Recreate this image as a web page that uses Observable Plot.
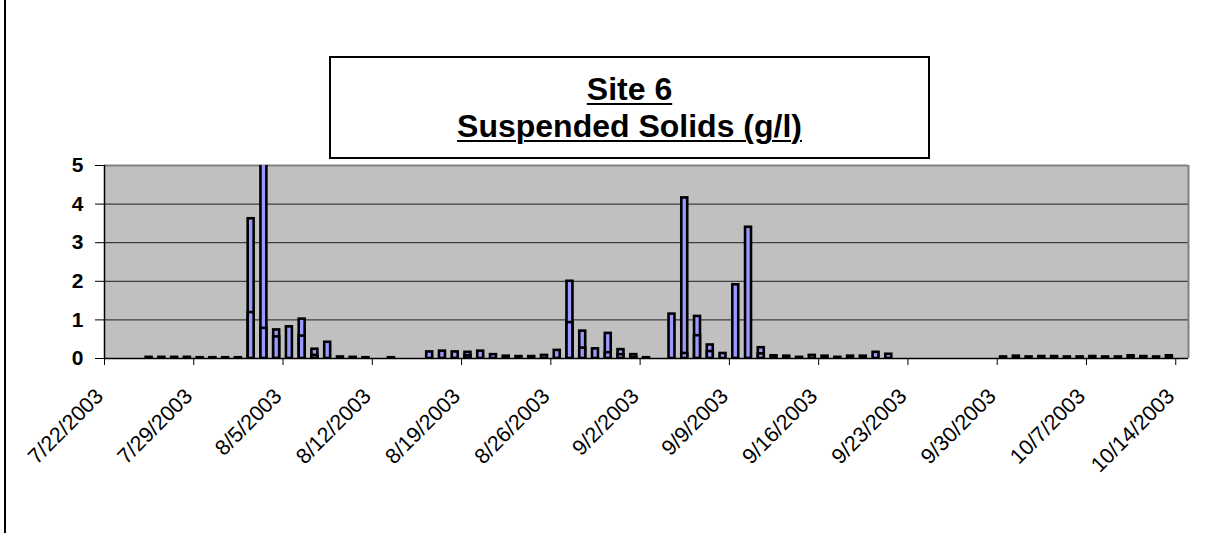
<!DOCTYPE html>
<html>
<head>
<meta charset="utf-8">
<script src="https://cdn.jsdelivr.net/npm/d3@7"></script>
<script src="https://cdn.jsdelivr.net/npm/@observablehq/plot@0.6"></script>
<style>
  html, body { margin: 0; padding: 0; background: #fff; }
  #wrap { position: relative; width: 1207px; height: 533px; overflow: hidden; font-family: "Liberation Sans", Arial, sans-serif; }
  #border { position: absolute; left: 4px; top: 0; width: 2px; height: 533px; background: #000; }
  #title { position: absolute; left: 329px; top: 56px; width: 597px; border: 2px solid #000; background: #fff;
           text-align: center; font-weight: bold; font-size: 32px; line-height: 37px; padding-top: 13px; box-sizing: content-box; height: 86px; }
  #title span { text-decoration: underline; text-decoration-thickness: 2px; text-underline-offset: 3px; }
  svg { position: absolute; left: 0; top: 0; }
  svg g[aria-label="y-axis tick label"] text { font-weight: bold; }
</style>
</head>
<body>
<div id="wrap">
  <div id="chart"></div>
  <div id="border"></div>
  <div id="title"><span>Site 6</span><br><span>Suspended Solids (g/l)</span></div>
</div>
<script>
// Sample dates (one bar per day)
const dates = [
  "2003-07-25","2003-07-26","2003-07-27","2003-07-28","2003-07-29","2003-07-30","2003-07-31","2003-08-01",
  "2003-08-02","2003-08-03","2003-08-04","2003-08-05","2003-08-06","2003-08-07","2003-08-08","2003-08-09",
  "2003-08-10","2003-08-11","2003-08-13","2003-08-16","2003-08-17","2003-08-18","2003-08-19","2003-08-20",
  "2003-08-21","2003-08-22","2003-08-23","2003-08-24","2003-08-25","2003-08-26","2003-08-27","2003-08-28",
  "2003-08-29","2003-08-30","2003-08-31","2003-09-01","2003-09-02","2003-09-04","2003-09-05","2003-09-06",
  "2003-09-07","2003-09-08","2003-09-09","2003-09-10","2003-09-11","2003-09-12","2003-09-13","2003-09-14",
  "2003-09-15","2003-09-16","2003-09-17","2003-09-18","2003-09-19","2003-09-20","2003-09-21","2003-09-30",
  "2003-10-01","2003-10-02","2003-10-03","2003-10-04","2003-10-05","2003-10-06","2003-10-07","2003-10-08",
  "2003-10-09","2003-10-10","2003-10-11","2003-10-12","2003-10-13"
];
// Higher sample value per day (g/l)
const totals = [
  0.03,0.03,0.03,0.03,0.02,0.02,0.02,0.02,
  3.62,6.2,0.74,0.82,1.02,0.24,0.42,0.04,
  0.03,0.02,0.02,0.17,0.19,0.17,0.16,0.19,
  0.10,0.06,0.05,0.05,0.08,0.21,2.00,0.71,
  0.25,0.65,0.23,0.10,0.02,1.15,4.16,1.09,
  0.35,0.13,1.91,3.40,0.28,0.07,0.06,0.03,
  0.08,0.06,0.03,0.06,0.06,0.16,0.11,0.04,
  0.06,0.04,0.05,0.05,0.04,0.04,0.05,0.04,
  0.04,0.07,0.05,0.04,0.07
];
// Lower (overlapping) sample value per day, null where not visible
const inners = [
  null,null,null,null,null,null,null,null,
  1.19,0.78,0.56,null,0.58,0.08,null,null,
  null,null,null,null,null,null,0.07,null,
  null,null,null,null,null,null,0.93,0.27,
  null,0.15,0.10,0.03,null,null,0.13,0.59,
  0.18,null,null,null,0.12,null,null,null,
  null,null,null,null,null,null,null,null,
  null,null,null,null,null,null,null,null,
  null,null,null,null,null
];
const tickDates = ["2003-07-22","2003-07-29","2003-08-05","2003-08-12","2003-08-19","2003-08-26","2003-09-02",
  "2003-09-09","2003-09-16","2003-09-23","2003-09-30","2003-10-07","2003-10-14"];
const tickLabels = ["7/22/2003","7/29/2003","8/5/2003","8/12/2003","8/19/2003","8/26/2003","9/2/2003",
  "9/9/2003","9/16/2003","9/23/2003","9/30/2003","10/7/2003","10/14/2003"];
const yTicks = [0, 1, 2, 3, 4, 5];
const gridValues = [1, 2, 3, 4];

const data = dates.map((d, i) => ({date: new Date(d), total: totals[i], inner: inners[i]}));
const innerData = data.filter(d => d.inner != null);
const ticks = tickDates.map((d, i) => ({date: new Date(d), label: tickLabels[i]}));
const x0 = new Date("2003-07-22"), x1 = new Date("2003-10-15");
const next = d => d3.utcDay.offset(d.date, 1);

const chart = Plot.plot({
  width: 1207, height: 533,
  marginLeft: 104, marginRight: 19, marginTop: 165, marginBottom: 175,
  style: {fontFamily: "Liberation Sans, Arial, sans-serif", color: "#000", background: "transparent", overflow: "visible"},
  x: {type: "utc", domain: [x0, x1]},
  y: {domain: [0, 5]},
  marks: [
    Plot.frame({fill: "#c0c0c0", stroke: null}),
    Plot.ruleY(gridValues, {stroke: "#000", strokeWidth: 1, strokeOpacity: 0.85}),
    Plot.ruleY([5], {stroke: "#808080", strokeWidth: 2}),
    Plot.ruleX([x1], {stroke: "#808080", strokeWidth: 2}),
    Plot.rect(data, {x1: "date", x2: next, y1: 0, y2: "total", insetLeft: 3.4, insetRight: 3.4,
      fill: "#9999ff", stroke: "#000", strokeWidth: 2.6, clip: true}),
    Plot.rect(innerData, {x1: "date", x2: next, y1: 0, y2: "inner", insetLeft: 3.4, insetRight: 3.4,
      fill: "#9999ff", stroke: "#000", strokeWidth: 2.6, clip: true}),
    Plot.ruleY([0], {stroke: "#000", strokeWidth: 1.5}),
    Plot.ruleX([x0], {stroke: "#000", strokeWidth: 1.5}),
    Plot.axisY({ticks: yTicks, tickSize: 9, tickPadding: 12, fontSize: 21, label: null, tickFormat: d => d}),
    Plot.axisX({ticks: ticks.map(t => t.date), tickSize: 7, tickFormat: () => "", label: null}),
    Plot.text(ticks, {x: "date", text: "label", frameAnchor: "bottom", rotate: -45, textAnchor: "end",
      lineAnchor: "bottom", dy: 39, fontSize: 21.5, fill: "#000"})
  ]
});
document.getElementById("chart").appendChild(chart);
</script>
</body>
</html>
